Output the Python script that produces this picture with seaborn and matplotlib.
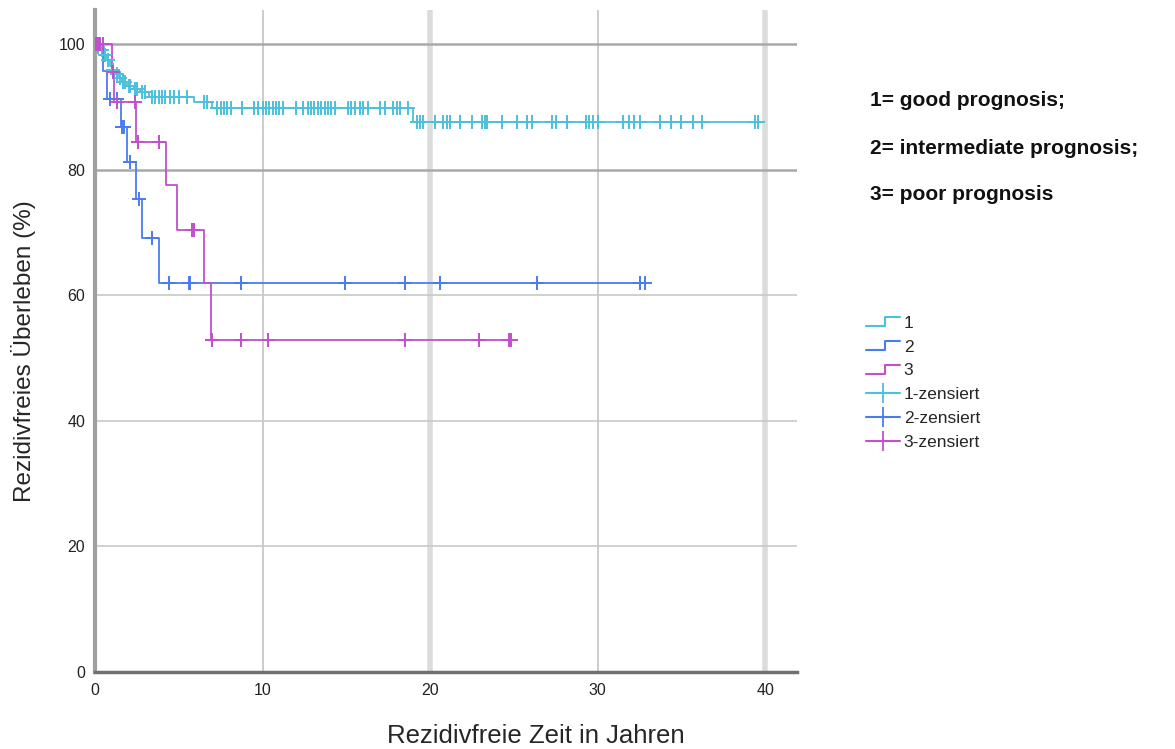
import numpy as np
import pandas as pd
import matplotlib
matplotlib.use("Agg")
import matplotlib.pyplot as plt
import seaborn as sns
from matplotlib.lines import Line2D
from matplotlib.legend_handler import HandlerBase

# ---------------- data ----------------
groups = ["1", "2", "3"]

g1_event_times = [0.1, 0.3, 0.5, 0.7, 0.9, 1.0, 1.2, 1.4, 1.6, 1.9, 2.3, 2.7, 3.2, 5.9, 7.0, 19.0]
g1_surv = [99.5, 99.0, 98.3, 97.5, 96.5, 95.8, 95.2, 94.6, 93.9, 93.3, 92.8, 92.3, 91.6, 90.8, 89.8, 87.5]
g1_censored = [0.2, 0.4, 0.6, 0.8, 1.1, 1.3, 1.5, 1.7, 1.8, 2.0, 2.1, 2.4, 2.5, 2.8, 3.0, 3.4,
               3.6, 3.8, 4.0, 4.2, 4.5, 4.7, 5.0, 5.5, 6.5, 6.7, 7.3, 7.5, 7.7, 7.9, 8.1, 8.8,
               9.5, 9.7, 10.0, 10.2, 10.4, 10.6, 10.8, 11.0, 11.2, 12.0, 12.4, 12.7, 12.9, 13.1,
               13.3, 13.5, 13.7, 13.9, 14.1, 14.3, 15.1, 15.3, 15.5, 15.8, 16.0, 16.3, 17.0,
               17.3, 17.8, 18.0, 18.2, 18.7, 19.2, 19.4, 19.6, 20.3, 20.8, 21.0, 21.2, 21.8,
               22.5, 23.1, 23.3, 23.4, 24.3, 25.2, 25.8, 26.1, 27.3, 27.5, 28.2, 29.3, 29.5,
               29.7, 30.0, 31.5, 31.9, 32.2, 32.5, 33.7, 34.4, 35.0, 35.7, 36.2, 39.4, 39.6]

g2_event_times = [0.5, 0.7, 1.55, 1.9, 2.43, 2.8, 3.83]
g2_surv = [95.7, 91.3, 86.8, 81.2, 75.3, 69.1, 62.0]
g2_censored = [0.1, 0.2, 0.3, 0.9, 1.3, 1.6, 1.75, 2.1, 2.6, 3.4, 4.4, 5.6, 5.7, 8.7,
               14.9, 18.5, 20.6, 26.4, 32.5, 32.8]

g3_event_times = [1.0, 1.15, 2.43, 4.23, 4.9, 6.52, 6.92]
g3_surv = [95.5, 90.8, 84.4, 77.5, 70.3, 61.9, 52.9]
g3_censored = [0.05, 0.15, 0.3, 0.5, 1.1, 1.3, 2.4, 2.55, 3.8, 5.8, 5.9, 7.0, 8.7, 10.35,
               18.5, 22.9, 24.7, 24.8]

legend_labels = ["1", "2", "3", "1-zensiert", "2-zensiert", "3-zensiert"]
notes = ["1= good prognosis;", "2= intermediate prognosis;", "3= poor prognosis"]
x_ticks = [0, 10, 20, 30, 40]
y_ticks = [0, 20, 40, 60, 80, 100]

colors = {"1": "#4cc0dc", "2": "#4a7cf0", "3": "#c24fcc"}

# ---------------- build tidy frames ----------------
def survival_at(t, ev_t, ev_s):
    s = 100.0
    for et, es in zip(ev_t, ev_s):
        if et <= t:
            s = es
    return s

curve_rows, cens_rows = [], []
for g, et, es, ct in [("1", g1_event_times, g1_surv, g1_censored),
                      ("2", g2_event_times, g2_surv, g2_censored),
                      ("3", g3_event_times, g3_surv, g3_censored)]:
    xs = [0.0] + list(et) + [max(ct)]
    ys = [100.0] + list(es) + [es[-1]]
    for i, (x, y) in enumerate(zip(xs, ys)):
        curve_rows.append({"group": g, "time": x, "surv": y, "order": i})
    for c in ct:
        cens_rows.append({"group": g, "time": c, "surv": survival_at(c, et, es)})
curves = pd.DataFrame(curve_rows)
cens = pd.DataFrame(cens_rows)

# ---------------- figure ----------------
sns.set_style("white")
plt.rcParams["font.family"] = ["Liberation Sans", "DejaVu Sans"]

fig = plt.figure(figsize=(11.75, 7.49), dpi=100)
ax = fig.add_axes([95 / 1175, 1 - 672 / 749, (797 - 95) / 1175, (672 - 10) / 749])

for g in groups:
    d = curves[curves.group == g].sort_values("order")
    sns.lineplot(data=d, x="time", y="surv", ax=ax, color=colors[g], lw=1.3,
                 drawstyle="steps-post", estimator=None, sort=False, legend=False, zorder=3)
    dc = cens[cens.group == g]
    sns.scatterplot(data=dc, x="time", y="surv", ax=ax, marker="+", s=100,
                    color=colors[g], linewidth=1.4, legend=False, zorder=4)

ax.set_xlim(0, 41.9)
ax.set_ylim(0, 105.4)
ax.set_xticks(x_ticks)
ax.set_yticks(y_ticks)
ax.set_xticklabels([str(v) for v in x_ticks], fontsize=11.5, color="#222222")
ax.set_yticklabels([str(v) for v in y_ticks], fontsize=11.5, color="#222222")
ax.tick_params(axis="y", length=0, pad=7)
ax.tick_params(axis="x", length=0, pad=8)
ax.grid(True, zorder=0)
for v, gl in zip(x_ticks, ax.get_xgridlines()):
    if v in (20, 40):
        gl.set(color="#dcdcdc", lw=4)
    elif v == 0:
        gl.set(visible=False)
    else:
        gl.set(color="#c4c4c4", lw=1.2)
for v, gl in zip(y_ticks, ax.get_ygridlines()):
    if v in (80, 100):
        gl.set(color="#a9a9a9", lw=1.8)
    elif v == 0:
        gl.set(visible=False)
    else:
        gl.set(color="#c8c8c8", lw=1.2)
ax.set_axisbelow(True)

for s in ["top", "right"]:
    ax.spines[s].set_visible(False)
ax.spines["left"].set(color="#a0a0a0", lw=3)
ax.spines["bottom"].set(color="#707070", lw=2.5)

ax.set_xlabel("Rezidivfreie Zeit in Jahren", fontsize=18.5)
ax.set_ylabel("Rezidivfreies Überleben (%)", fontsize=17.5)
ax.xaxis.set_label_coords((536 - 95) / 702, (672 - 724) / 662)
ax.yaxis.set_label_coords((36 - 95) / 702, (672 - 351) / 662)

# ---------------- legend ----------------
class StepHandler(HandlerBase):
    def create_artists(self, legend, orig_handle, xdescent, ydescent, width, height, fontsize, trans):
        w, h = width, height
        xs = [0, w * 0.55, w * 0.55, w]
        ys = [h * 0.15, h * 0.15, h * 0.9, h * 0.9]
        ln = Line2D(xs, ys, color=orig_handle.get_color(), lw=1.5, transform=trans)
        return [ln]

handles = [Line2D([], [], color=colors[g]) for g in groups] + \
          [Line2D([], [], color=colors[g], lw=1.5, marker="+", markersize=15, mew=1.3) for g in groups]
handler_map = {h: StepHandler() for h in handles[:3]}
leg = fig.legend(handles, legend_labels, handler_map=handler_map, loc="upper left",
                 bbox_to_anchor=(850 / 1175, 1 - 300 / 749), frameon=False, fontsize=12.5,
                 handlelength=2.0, handletextpad=0.2, labelspacing=0.5)

for i, t in enumerate(notes):
    fig.text(870 / 1175, 1 - (101 + i * 47) / 749, t, fontsize=15, fontweight="bold",
             va="center", ha="left", color="#111111")

fig.savefig("out.png", dpi=100)
